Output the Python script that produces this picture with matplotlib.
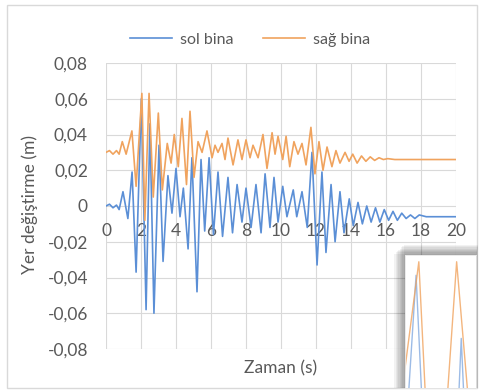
import numpy as np
import matplotlib.pyplot as plt
from matplotlib.patches import Rectangle

plt.rcParams['font.family'] = ['Lato', 'DejaVu Sans']

# sol bina: local peaks/troughs (time s, displacement m)
sol_t = [0, 0.2, 0.4, 0.6, 0.75, 0.97, 1.25, 1.49, 1.72, 2.02, 2.29, 2.51, 2.74,
         3.03, 3.26, 3.54, 3.77, 4.0, 4.23, 4.42, 4.69, 4.91, 5.2, 5.43, 5.64,
         5.89, 6.14, 6.4, 6.66, 6.97, 7.23, 7.49, 7.77, 8.0, 8.29, 8.57, 8.86,
         9.09, 9.37, 9.6, 9.83, 10.1, 10.34, 10.7, 10.9, 11.2, 11.5, 11.77, 12.06,
         12.34, 12.57, 12.86, 13.09, 13.37, 13.6, 13.9, 14.13, 14.4, 14.65, 14.9,
         15.15, 15.4, 15.65, 15.9, 16.15, 16.4, 16.65, 16.9, 17.15, 17.4, 17.65,
         17.9, 18.3, 20.0]
sol_v = [0, 0.001, -0.001, 0.0005, -0.002, 0.008, -0.007, 0.019, -0.037, 0.060,
         -0.058, 0.046, -0.060, 0.034, -0.031, 0.017, -0.004, 0.021, -0.006, 0.010,
         -0.024, 0.027, -0.048, 0.026, -0.014, 0.027, -0.016, 0.019, -0.017, 0.016,
         -0.015, 0.012, -0.009, 0.010, -0.012, 0.012, -0.015, 0.018, -0.012, 0.016,
         -0.009, 0.011, -0.006, 0.009, -0.006, 0.008, -0.012, 0.030, -0.033, 0.019,
         -0.026, 0.012, -0.020, 0.008, -0.015, 0.004, -0.011, 0.002, -0.010, 0.000,
         -0.009, -0.001, -0.009, -0.002, -0.008, -0.003, -0.008, -0.004, -0.007,
         -0.005, -0.007, -0.005, -0.006, -0.006]

# sag bina
sag_t = [0, 0.2, 0.4, 0.6, 0.75, 0.93, 1.15, 1.48, 1.72, 2.05, 2.22, 2.46, 2.7,
         2.99, 3.22, 3.5, 3.72, 3.9, 4.13, 4.34, 4.6, 4.8, 5.03, 5.26, 5.49, 5.77,
         6.06, 6.23, 6.4, 6.63, 6.8, 6.97, 7.26, 7.54, 7.77, 8.0, 8.23, 8.4, 8.69,
         8.97, 9.2, 9.49, 9.66, 9.83, 10.1, 10.29, 10.5, 10.74, 10.97, 11.2, 11.43,
         11.71, 11.94, 12.17, 12.4, 12.63, 12.91, 13.14, 13.37, 13.66, 13.89, 14.1,
         14.35, 14.6, 14.85, 15.1, 15.35, 15.6, 15.85, 16.1, 16.5, 20.0]
sag_v = [0.030, 0.031, 0.029, 0.031, 0.029, 0.036, 0.029, 0.042, 0.011, 0.063,
         -0.008, 0.063, 0.005, 0.052, 0.009, 0.035, 0.024, 0.040, 0.022, 0.049,
         0.012, 0.053, 0.016, 0.036, 0.030, 0.042, 0.027, 0.034, 0.030, 0.035,
         0.026, 0.038, 0.023, 0.037, 0.026, 0.037, 0.027, 0.034, 0.027, 0.040,
         0.021, 0.041, 0.029, 0.039, 0.026, 0.039, 0.022, 0.036, 0.029, 0.035,
         0.023, 0.044, 0.018, 0.036, 0.020, 0.033, 0.022, 0.031, 0.024, 0.030,
         0.025, 0.029, 0.024, 0.028, 0.025, 0.0275, 0.0255, 0.027, 0.026, 0.0265,
         0.026, 0.026]

x_ticks = list(range(0, 21, 2))
y_ticks = [-0.08, -0.06, -0.04, -0.02, 0, 0.02, 0.04, 0.06, 0.08]
y_labels = ['-0,08', '-0,06', '-0,04', '-0,02', '0', '0,02', '0,04', '0,06', '0,08']

blue = '#5B8FD6'
orange = '#F0A35E'
grey_txt = '#595959'
grid_c = '#D9D9D9'

fig = plt.figure(figsize=(4.87, 3.91), dpi=100)
fig.patches.append(Rectangle((7 / 487, 1 - 388 / 391), 470 / 487, 383 / 391,
                             transform=fig.transFigure, fill=False,
                             edgecolor='#D9D9D9', lw=1, zorder=-2))

ax = fig.add_axes([106 / 487, 1 - 349 / 391, 350 / 487, 286 / 391], zorder=1)
ax.set_facecolor('none')
ax.plot(sol_t, sol_v, color=blue, lw=1.2, label='sol bina')
ax.plot(sag_t, sag_v, color=orange, lw=1.2, label='sağ bina')

ax.set_xlim(0, 20)
ax.set_ylim(-0.08, 0.08)
ax.set_xticks(x_ticks)
ax.set_yticks(y_ticks)
ax.set_yticklabels(y_labels)
ax.grid(True, color=grid_c, lw=0.8)
ax.set_axisbelow(True)
for s in ax.spines.values():
    s.set_visible(False)
ax.spines['bottom'].set_position(('data', 0))
ax.tick_params(axis='both', length=0, labelsize=12.5, labelcolor=grey_txt)
ax.tick_params(axis='x', pad=12)
ax.tick_params(axis='y', pad=13)

fig.text(30 / 487, 1 - 205 / 391, 'Yer değiştirme (m)', rotation=90,
         ha='center', va='center', fontsize=12.5, color=grey_txt)
fig.text(281 / 487, 1 - 368 / 391, 'Zaman (s)', ha='center', va='center',
         fontsize=12.5, color=grey_txt)

fig.legend(loc='center', bbox_to_anchor=(250 / 487, 1 - 40 / 391), ncol=2,
           frameon=False, fontsize=11.5, handlelength=2.6, columnspacing=1.9,
           handletextpad=0.5, labelcolor=grey_txt)

# inset with a soft shadow on the left and top
ix, iy, iw, ih = 405 / 487, 1 - 388 / 391, 71 / 487, 133 / 391
shadow = fig.add_axes([ix - 12 / 487, iy, iw + 14 / 487, ih + 10 / 391], zorder=2)
shadow.set_xlim(0, 1)
shadow.set_ylim(0, 1)
shadow.axis('off')
for k in range(8, 0, -1):
    d = k / 8
    shadow.add_patch(Rectangle((d * 12 / 97, 0), 1 - d * 12 / 97 - (1 - d) * 2 / 97,
                               1 - (1 - d) * 10 / 143, facecolor='black',
                               alpha=0.05, lw=0))
ins = fig.add_axes([ix, iy, iw, ih], zorder=3)
ins.plot(sol_t, sol_v, color=blue, lw=1.0, alpha=0.6)
ins.plot(sag_t, sag_v, color=orange, lw=1.0, alpha=0.8)
ins.set_xlim(1.9, 2.67)
ins.set_ylim(0.035, 0.0645)
ins.set_xticks([])
ins.set_yticks([])
ins.set_facecolor('white')
for s in ins.spines.values():
    s.set_color('#E6E6E6')
    s.set_linewidth(0.6)

fig.savefig('out.png', dpi=100)
